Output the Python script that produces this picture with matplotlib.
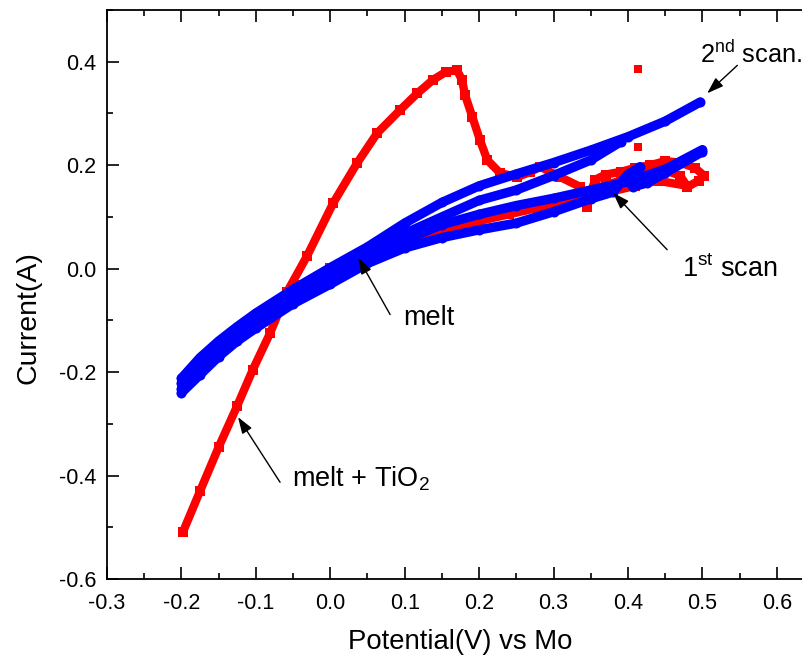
import matplotlib
matplotlib.use("Agg")
import matplotlib.pyplot as plt
from matplotlib.ticker import MultipleLocator

plt.rcParams['font.family'] = ['Liberation Sans', 'DejaVu Sans']
plt.rcParams['mathtext.fontset'] = 'custom'
plt.rcParams['mathtext.rm'] = 'Liberation Sans'
plt.rcParams['mathtext.it'] = 'Liberation Sans:italic'

# ---- melt + TiO2 (red squares): forward sweep, noisy region, return sweep ----
tio2_x_fwd = [-0.198, -0.175, -0.150, -0.125, -0.104, -0.081, -0.058, -0.031, 0.004, 0.036,
              0.063, 0.094, 0.117, 0.138, 0.155, 0.170, 0.177, 0.181, 0.191, 0.201, 0.211,
              0.228, 0.251, 0.269, 0.282, 0.309, 0.336, 0.345]
tio2_y_fwd = [-0.509, -0.430, -0.345, -0.265, -0.195, -0.125, -0.045, 0.025, 0.127, 0.204,
              0.262, 0.307, 0.339, 0.365, 0.380, 0.384, 0.365, 0.336, 0.293, 0.249, 0.210,
              0.185, 0.177, 0.187, 0.197, 0.177, 0.158, 0.120]
tio2_x_noise = [0.349, 0.356, 0.370, 0.390, 0.410, 0.430, 0.450, 0.470, 0.490, 0.502,
                0.495, 0.480, 0.470, 0.450, 0.430, 0.410, 0.390, 0.370, 0.350]
tio2_y_noise = [0.143, 0.172, 0.182, 0.187, 0.195, 0.200, 0.208, 0.205, 0.195, 0.180,
                0.170, 0.158, 0.180, 0.190, 0.185, 0.175, 0.170, 0.162, 0.150]
tio2_x_rev = [0.480, 0.440, 0.410, 0.380, 0.350, 0.320, 0.280, 0.240, 0.200, 0.160,
              0.120, 0.080, 0.040, 0.000, -0.037]
tio2_y_rev = [0.160, 0.170, 0.160, 0.150, 0.140, 0.130, 0.118, 0.105, 0.092, 0.078,
              0.062, 0.045, 0.025, 0.002, -0.031]
tio2_x_out = [0.414, 0.414]
tio2_y_out = [0.386, 0.235]

# ---- melt (blue circles): two scans, each forward + reverse ----
scan2_x_fwd = [-0.2, -0.175, -0.15, -0.125, -0.1, -0.05, 0.0, 0.05, 0.1, 0.15, 0.2, 0.25,
               0.3, 0.35, 0.4, 0.45, 0.497]
scan2_y_fwd = [-0.212, -0.172, -0.140, -0.112, -0.086, -0.040, 0.002, 0.042, 0.088, 0.128,
               0.160, 0.183, 0.205, 0.229, 0.255, 0.285, 0.322]
scan2_x_rev = [0.39, 0.35, 0.3, 0.25, 0.2, 0.15, 0.1, 0.05, 0.0, -0.05, -0.1, -0.125,
               -0.15, -0.175, -0.2]
scan2_y_rev = [0.245, 0.210, 0.180, 0.152, 0.132, 0.100, 0.068, 0.030, -0.008, -0.050,
               -0.095, -0.120, -0.148, -0.183, -0.222]
scan1_x_fwd = [-0.2, -0.175, -0.15, -0.125, -0.1, -0.05, 0.0, 0.05, 0.1, 0.15, 0.2, 0.25,
               0.3, 0.35, 0.4, 0.45, 0.5]
scan1_y_fwd = [-0.232, -0.195, -0.160, -0.130, -0.105, -0.058, -0.018, 0.020, 0.055, 0.085,
               0.105, 0.122, 0.136, 0.152, 0.168, 0.192, 0.230]
scan1_x_rev = [0.5, 0.45, 0.426, 0.407, 0.416, 0.399, 0.38, 0.35, 0.3, 0.25, 0.2, 0.15,
               0.1, 0.05, 0.0, -0.05, -0.1, -0.125, -0.15, -0.175, -0.2]
scan1_y_rev = [0.226, 0.185, 0.166, 0.158, 0.197, 0.181, 0.148, 0.135, 0.110, 0.088, 0.075,
               0.060, 0.040, 0.010, -0.030, -0.068, -0.115, -0.140, -0.170, -0.205, -0.240]

RED = '#ff0000'
BLUE = '#0000ff'

fig = plt.figure(figsize=(8.03, 6.63), dpi=100)
ax = fig.add_axes([0.1333, 0.1267, 0.8804, 0.8582])

kw_red = dict(color=RED, lw=6.0, marker='s', ms=6.5, mew=0, solid_capstyle='butt')
ax.plot(tio2_x_fwd, tio2_y_fwd, **kw_red)
ax.plot(tio2_x_noise, tio2_y_noise, **kw_red)
ax.plot(tio2_x_rev, tio2_y_rev, **kw_red)
ax.plot(tio2_x_out, tio2_y_out, ls='none', color=RED, marker='s', ms=5.5, mew=0)

kw_blue = dict(color=BLUE, lw=6.8, marker='o', ms=7.2, mew=0, solid_capstyle='round')
ax.plot(scan1_x_fwd, scan1_y_fwd, **kw_blue)
ax.plot(scan1_x_rev, scan1_y_rev, **kw_blue)
ax.plot(scan2_x_fwd, scan2_y_fwd, **kw_blue)
ax.plot(scan2_x_rev, scan2_y_rev, **kw_blue)

ax.set_xlim(-0.3, 0.65)
ax.set_ylim(-0.6, 0.5)
ax.xaxis.set_major_locator(MultipleLocator(0.1))
ax.xaxis.set_minor_locator(MultipleLocator(0.05))
ax.yaxis.set_major_locator(MultipleLocator(0.2))
ax.yaxis.set_minor_locator(MultipleLocator(0.1))
ax.xaxis.set_major_formatter(lambda v, p: f"{v:.1f}".replace("-0.0", "0.0"))
ax.yaxis.set_major_formatter(lambda v, p: f"{v:.1f}".replace("-0.0", "0.0"))
ax.tick_params(which='both', direction='in', top=True, right=True, width=1.2,
               labelsize=15.5)
ax.tick_params(which='major', length=8.5)
ax.tick_params(which='minor', length=4.5)
ax.tick_params(axis='y', pad=8)
ax.tick_params(axis='x', pad=10)
for s in ax.spines.values():
    s.set_linewidth(1.3)

ax.set_xlabel("Potential(V) vs Mo", fontsize=19.8, labelpad=11)
ax.set_ylabel("Current(A)", fontsize=20.5)
ax.yaxis.set_label_coords(-0.093, 0.46)

arr = dict(arrowstyle='-|>,head_length=0.5,head_width=0.17', color='black', lw=1.0,
           mutation_scale=20, shrinkA=0, shrinkB=0)
ax.annotate("", xy=(0.5065, 0.339), xytext=(0.547, 0.393), arrowprops=arr)
ax.text(0.497, 0.397, "2$^{\\rm nd}$ scan.", fontsize=18.3, ha='left', va='baseline')

ax.annotate("", xy=(0.380, 0.1466), xytext=(0.4527, 0.0366), arrowprops=arr)
ax.text(0.473, -0.0154, "1$^{\\rm st}$ scan", fontsize=19.5, ha='left', va='baseline')

ax.annotate("", xy=(0.0374, 0.0212), xytext=(0.0804, -0.0887), arrowprops=arr)
ax.text(0.098, -0.108, "melt", fontsize=19.5, ha='left', va='baseline')

ax.annotate("", xy=(-0.124, -0.287), xytext=(-0.0675, -0.413), arrowprops=arr)
ax.text(-0.0513, -0.422, "melt + TiO$_2$", fontsize=19.5, ha='left', va='baseline')

fig.savefig("out.png", dpi=100)
